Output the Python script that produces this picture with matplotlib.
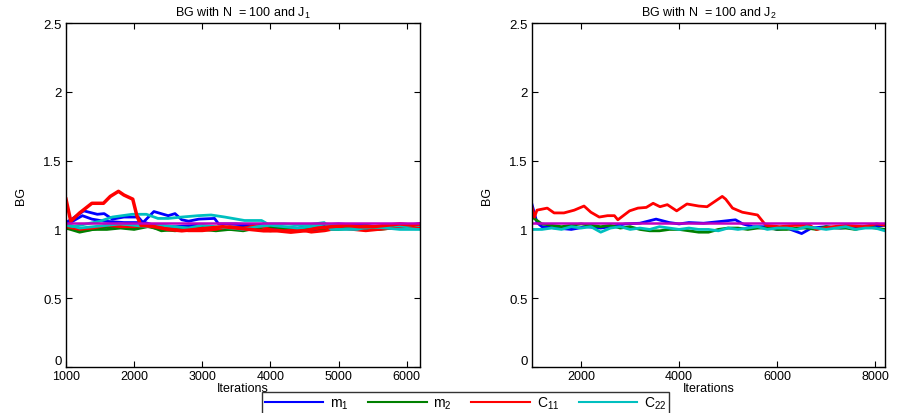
import numpy as np
import matplotlib
matplotlib.use('Agg')
import matplotlib.pyplot as plt
from matplotlib.lines import Line2D

plt.rcParams['font.family'] = ['Liberation Sans', 'DejaVu Sans']
plt.rcParams['font.size'] = 8
plt.rcParams['mathtext.default'] = 'regular'

# ---- data, left panel (J1): two runs per parameter ----
grid1 = np.arange(1000, 6201, 200)

m1a_x = [1000, 1100, 1260, 1380, 1460, 1560, 1680, 1850, 2060, 2130, 2290, 2500, 2600, 2700,
         2800, 2950, 3180, 3240, 3500, 3800, 4100, 4400, 4700, 5000, 5300, 5600, 5900, 6200]
m1a_y = [1.05, 1.08, 1.135, 1.12, 1.11, 1.115, 1.075, 1.09, 1.09, 1.05, 1.13, 1.10, 1.115, 1.07,
         1.06, 1.075, 1.08, 1.04, 1.04, 1.03, 1.02, 1.01, 1.03, 1.04, 1.03, 1.02, 1.03, 1.04]
m1b_x = [1000, 1100, 1240, 1380, 1560, 1850, 2160, 2300, 2600, 2900, 3200, 3500, 3800, 4100,
         4400, 4700, 5000, 5300, 5600, 5900, 6200]
m1b_y = [1.03, 1.06, 1.10, 1.075, 1.06, 1.05, 1.05, 1.03, 1.02, 1.03, 1.01, 1.02, 1.03, 1.00,
         0.99, 1.00, 1.02, 1.03, 1.02, 1.03, 1.04]

m2a_y = [1.03, 0.99, 1.00, 1.02, 1.02, 1.01, 1.03, 0.99, 1.00, 1.01, 1.00, 0.99, 1.00, 1.01,
         1.00, 0.99, 1.00, 0.99, 1.01, 1.00, 1.00, 1.01, 1.03, 1.01, 1.02, 1.03, 1.03]
m2b_y = [1.01, 0.98, 1.00, 1.00, 1.01, 1.00, 1.02, 1.00, 0.99, 1.00, 1.02, 1.01, 1.00, 0.99,
         1.01, 1.02, 1.01, 1.00, 1.00, 1.01, 1.02, 1.01, 1.00, 1.00, 1.01, 1.02, 1.02]

c11a_x = [1000, 1070, 1200, 1380, 1550, 1650, 1770, 1850, 1980, 2040, 2100, 2300, 2500, 2700,
          2900, 3100, 3300, 3500, 3700, 3900, 4100, 4300, 4500, 4700, 4900, 5100, 5300, 5500,
          5700, 5900, 6100, 6200]
c11a_y = [1.22, 1.06, 1.12, 1.19, 1.19, 1.24, 1.277, 1.25, 1.22, 1.10, 1.03, 1.02, 1.00, 0.99,
          1.00, 1.01, 1.02, 1.01, 1.00, 0.99, 0.99, 0.98, 0.99, 1.01, 1.02, 1.03, 1.02, 1.02,
          1.03, 1.04, 1.03, 1.04]
c11b_y = [1.02, 1.00, 1.01, 1.03, 1.02, 1.02, 1.03, 1.02, 1.00, 0.99, 0.99, 1.00, 1.02, 1.01,
          1.03, 1.00, 0.99, 1.00, 0.98, 0.99, 1.01, 1.00, 0.99, 1.00, 1.01, 1.02, 1.02]

c22a_x = [1000, 1100, 1300, 1500, 1680, 1970, 2180, 2350, 2500, 2700, 2940, 3130, 3330, 3620,
          3870, 3960, 4200, 4500, 4790, 4890, 5100, 5270, 5460, 5700, 5900, 6200]
c22a_y = [1.03, 1.02, 1.04, 1.06, 1.09, 1.11, 1.11, 1.08, 1.08, 1.09, 1.10, 1.105, 1.09, 1.065,
          1.065, 1.04, 1.04, 1.03, 1.05, 1.00, 1.00, 1.00, 1.02, 1.01, 1.00, 1.00]
c22b_y = [1.04, 1.01, 1.02, 1.03, 1.04, 1.03, 1.02, 1.03, 1.02, 1.01, 1.03, 1.02, 1.01, 1.00,
          1.02, 1.03, 1.02, 1.01, 1.02, 1.04, 1.03, 1.02, 1.01, 1.02, 1.03, 1.02, 1.03]

# ---- data, right panel (J2) ----
grid2 = np.arange(1000, 8201, 200)

m1r_x = [1000, 1100, 1200, 1500, 1800, 2100, 2400, 2600, 2900, 3200, 3530, 3800, 4000, 4200,
         4500, 4900, 5150, 5300, 5500, 5800, 6000, 6200, 6500, 6700, 7000, 7300, 7600, 7900, 8200]
m1r_y = [1.18, 1.05, 1.02, 1.01, 1.00, 1.02, 1.01, 1.02, 1.04, 1.045, 1.075, 1.05, 1.04, 1.05,
         1.045, 1.06, 1.07, 1.04, 1.02, 1.02, 1.00, 1.01, 0.97, 1.01, 1.02, 1.01, 1.02, 1.02, 1.03]

m2r_y = [1.09, 1.04, 1.03, 1.02, 1.03, 1.04, 1.03, 1.02, 1.03, 1.01, 1.02, 1.00, 0.99, 0.99,
         1.00, 1.00, 0.99, 0.98, 0.98, 1.00, 1.01, 1.01, 1.00, 1.01, 1.01, 1.00, 1.00, 1.01,
         1.01, 1.00, 1.02, 1.01, 1.01, 1.00, 1.02, 1.01, 1.00]

c11r_x = [1000, 1050, 1100, 1310, 1450, 1650, 1860, 2060, 2200, 2370, 2540, 2680, 2750, 2990,
          3160, 3330, 3470, 3610, 3760, 3950, 4160, 4400, 4570, 4880, 4950, 5090, 5290, 5600,
          5770, 6050, 6380, 6660, 6800, 7140, 7410, 7750, 8030, 8200]
c11r_y = [1.16, 1.09, 1.14, 1.155, 1.12, 1.12, 1.14, 1.17, 1.125, 1.09, 1.10, 1.10, 1.07, 1.135,
          1.155, 1.16, 1.19, 1.165, 1.18, 1.135, 1.185, 1.17, 1.165, 1.24, 1.22, 1.155, 1.125,
          1.105, 1.03, 1.02, 1.03, 1.03, 1.00, 1.02, 1.03, 1.02, 1.04, 1.03]

c22r_y = [1.00, 1.00, 1.01, 1.00, 1.02, 1.01, 1.02, 0.98, 1.01, 1.02, 1.00, 1.01, 1.00, 1.02,
          1.01, 1.00, 1.01, 1.00, 1.00, 0.99, 1.01, 1.00, 1.01, 1.02, 1.00, 1.01, 1.01, 1.00,
          1.02, 1.01, 1.00, 1.01, 1.02, 1.00, 1.01, 1.01, 0.99]

ref_level = 1.045

labels = ['m$_1$', 'm$_2$', 'C$_{11}$', 'C$_{22}$']
colors = ['#0000ff', '#008000', '#ff0000', '#00bfbf']

fig = plt.figure(figsize=(8.98, 4.14), dpi=100)
ax1 = fig.add_axes([0.0735, 0.111, 0.3945, 0.831])
ax2 = fig.add_axes([0.5925, 0.111, 0.3930, 0.831])

lw = 2.0
ax1.plot(m1a_x, m1a_y, color=colors[0], lw=lw)
ax1.plot(m1b_x, m1b_y, color=colors[0], lw=lw)
ax1.plot(grid1, m2a_y, color=colors[1], lw=lw)
ax1.plot(grid1, m2b_y, color=colors[1], lw=lw)
ax1.plot(grid1, c11b_y, color=colors[2], lw=lw)
ax1.plot(c22a_x, c22a_y, color=colors[3], lw=lw)
ax1.plot(grid1, c22b_y, color=colors[3], lw=lw)
ax1.plot(c11a_x, c11a_y, color=colors[2], lw=2.5)
ax1.axhline(ref_level, color='#bf00bf', lw=1.8)

ax2.plot(m1r_x, m1r_y, color=colors[0], lw=lw)
ax2.plot(grid2, m2r_y, color=colors[1], lw=lw)
ax2.plot(c11r_x, c11r_y, color=colors[2], lw=lw)
ax2.plot(grid2, c22r_y, color=colors[3], lw=lw)
ax2.axhline(ref_level, color='#bf00bf', lw=1.8)

yt = [0, 0.5, 1, 1.5, 2, 2.5]
for ax, xmax, xt, sub in [(ax1, 6200, [1000, 2000, 3000, 4000, 5000, 6000], '1'),
                          (ax2, 8200, [2000, 4000, 6000, 8000], '2')]:
    ax.set_xlim(1000, xmax)
    ax.set_ylim(0, 2.5)
    ax.set_xticks(xt)
    ax.set_yticks(yt)
    ax.set_yticklabels(['0', '0.5', '1', '1.5', '2', '2.5'])
    ax.tick_params(direction='in', top=True, right=True, length=4, width=0.8,
                   labelsize=9.5, pad=3)
    ax.tick_params(axis='x', labelsize=9, pad=2)
    # the zero label sits just above the corner, as in the original
    ax.get_yticklabels()[0].set_verticalalignment('bottom')
    for s in ax.spines.values():
        s.set_linewidth(1.0)
    ax.set_xlabel('Iterations', fontsize=9, labelpad=0)
    ax.set_ylabel('BG', fontsize=9, labelpad=12)
    ax.set_title('BG with N  = 100 and J$_' + sub + '$', fontsize=9, pad=5)

handles = [Line2D([], [], color=c, lw=1.5) for c in colors]
leg = fig.legend(handles, labels, loc='lower center', bbox_to_anchor=(0.5185, -0.006),
                 ncol=4, fontsize=10, frameon=True, fancybox=False, edgecolor='black',
                 handlelength=4.2, handletextpad=0.5, columnspacing=1.4,
                 borderpad=0.2, borderaxespad=0.1)
leg.get_frame().set_linewidth(1.0)

fig.savefig('out.png', dpi=100)
